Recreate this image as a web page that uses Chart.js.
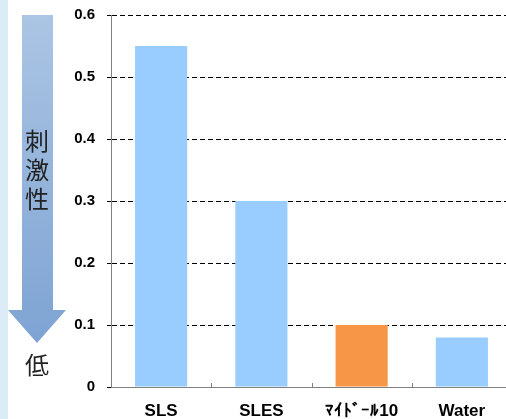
<!DOCTYPE html>
<html>
<head>
<meta charset="utf-8">
<script src="https://cdn.jsdelivr.net/npm/chart.js@4"></script>
<style>
  html, body { margin: 0; padding: 0; background: #fff; overflow: hidden; }
  #wrap { position: relative; width: 512px; height: 419px; }
  #strip { position: absolute; left: 0; top: 0; width: 8px; height: 419px; background: #dcecf6; }
  #arrow { position: absolute; left: 0; top: 0; }
  .side { position: absolute; font-family: "Noto Sans CJK JP", sans-serif; font-size: 24px; color: #222; line-height: 29px; }
</style>
</head>
<body>
<div id="wrap">
  <canvas id="chart" width="512" height="419"></canvas>
  <div id="strip"></div>
  <svg id="arrow" width="110" height="419">
    <defs>
      <linearGradient id="g" x1="0" y1="0" x2="0" y2="1">
        <stop offset="0" stop-color="#abc5e4"/>
        <stop offset="1" stop-color="#7ea3d3"/>
      </linearGradient>
    </defs>
    <polygon points="22,15 53,15 53,310 66,310 37,343 8,310 22,310" fill="url(#g)"/>
  </svg>
  <div class="side" style="left:25px; top:125px;">刺<br>激<br>性</div>
  <div class="side" style="left:25px; top:349px;">低</div>
</div>
<script>
'use strict';

// ─── Data ─────────────────────────────────────────────
const categories = ['SLS', 'SLES', 'ﾏｲﾄﾞｰﾙ10', 'Water'];
const values     = [0.55, 0.30, 0.10, 0.08];
const barColors  = ['#99ccff', '#99ccff', '#f79646', '#99ccff'];

// inward tick marks on the category axis
const innerTicks = {
  id: 'innerTicks',
  afterDraw(chart) {
    const x = chart.scales.x, ctx = chart.ctx, bottom = chart.chartArea.bottom;
    ctx.save();
    ctx.strokeStyle = '#808080';
    ctx.lineWidth = 1;
    for (let i = 1; i < categories.length; i++) {
      const px = Math.round((x.getPixelForValue(i - 1) + x.getPixelForValue(i)) / 2) + 0.5;
      ctx.beginPath();
      ctx.moveTo(px, bottom);
      ctx.lineTo(px, bottom - 4);
      ctx.stroke();
    }
    ctx.restore();
  }
};

const boldFont = size => ({ family: 'Liberation Sans, Arial', size, weight: 'bold' });

new Chart(document.getElementById('chart'), {
  type: 'bar',
  data: {
    labels: categories,
    datasets: [{
      data: values,
      backgroundColor: barColors,
      borderWidth: 0,
      barPercentage: 0.52,
      categoryPercentage: 1
    }]
  },
  options: {
    responsive: false,
    animation: false,
    layout: { padding: 0 },
    plugins: { legend: { display: false }, tooltip: { enabled: false } },
    scales: {
      x: {
        grid: { display: false },
        border: { color: '#808080', width: 1 },
        ticks: { color: '#000', font: boldFont(17), padding: 6 },
        afterFit: s => { s.height = 32; s.paddingLeft = 0; s.paddingRight = 0; }
      },
      y: {
        min: 0, max: 0.6,
        ticks: {
          stepSize: 0.1,
          color: '#000',
          padding: 12,
          font: boldFont(15),
          callback: v => v === 0 ? '0' : v.toFixed(1)
        },
        grid: {
          color: ctx => ctx.tick && ctx.tick.value === 0 ? 'rgba(0,0,0,0)' : '#000',
          tickLength: 4,
          tickColor: '#000'
        },
        border: { color: '#808080', width: 1, dash: [5, 3] },
        afterFit: s => { s.width = 111; s.paddingTop = 15; s.paddingBottom = 0; }
      }
    }
  },
  plugins: [innerTicks]
});
</script>
</body>
</html>
